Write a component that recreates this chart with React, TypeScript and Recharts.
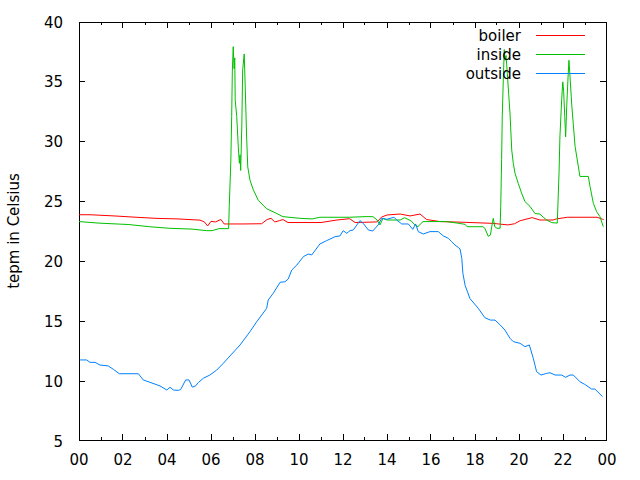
import { LineChart, Line, XAxis, YAxis, Legend, ReferenceArea } from "recharts";

// readings: [hour of day, temperature in Celsius]
const boiler: [number, number][] = [
  [0, 23.9], [0.5, 23.9], [1.6, 23.8], [2.5, 23.7], [3.5, 23.6], [4.5, 23.55],
  [5.5, 23.45], [5.7, 23.3], [5.85, 22.96], [6.0, 23.35], [6.2, 23.3], [6.45, 23.5],
  [6.6, 23.13], [7.5, 23.13], [8.3, 23.15], [8.55, 23.5], [8.73, 23.6], [8.9, 23.3],
  [9.1, 23.4], [9.27, 23.5], [9.5, 23.25], [11.0, 23.25], [11.73, 23.46], [12.3, 23.57],
  [12.55, 23.25], [13.55, 23.3], [13.75, 23.7], [14.0, 23.88], [14.6, 23.96], [15.05, 23.8],
  [15.5, 23.96], [15.8, 23.5], [16.4, 23.33], [17.5, 23.27], [18.8, 23.18], [19.5, 23.05],
  [19.8, 23.15], [20.05, 23.4], [20.6, 23.66], [20.95, 23.46], [21.55, 23.46], [21.7, 23.55],
  [22.2, 23.69], [23.55, 23.69], [23.8, 23.52], [23.85, 23.5],
];

const inside: [number, number][] = [
  [0, 23.33], [0.9, 23.2], [2.27, 23.08], [3.2, 22.9], [4.1, 22.77], [5.14, 22.7],
  [5.8, 22.57], [6.05, 22.57], [6.36, 22.74], [6.8, 22.74], [6.83, 24.6], [6.9, 28.3],
  [6.94, 32.1], [6.97, 35.9], [7.01, 37.94], [7.05, 36.1], [7.08, 37.0], [7.1, 33.5],
  [7.17, 32.1], [7.24, 29.6], [7.29, 28.2], [7.32, 28.9], [7.35, 27.6], [7.4, 31.3],
  [7.44, 36.0], [7.51, 37.33], [7.56, 34.3], [7.62, 30.4], [7.67, 27.9], [7.77, 26.8],
  [7.92, 26.0], [8.15, 25.1], [8.53, 24.4], [8.99, 24.0], [9.27, 23.74], [10.05, 23.6],
  [10.6, 23.55], [10.95, 23.69], [12.3, 23.69], [13.0, 23.74], [13.36, 23.74], [13.55, 23.46],
  [13.68, 23.05], [13.82, 23.6], [14.0, 23.46], [14.6, 23.46], [14.8, 23.65], [15.1, 23.38],
  [15.27, 23.05], [15.4, 22.9], [15.64, 23.33], [16.7, 23.33], [17.2, 23.2], [17.55, 23.1],
  [17.64, 22.9], [18.36, 22.9], [18.45, 22.77], [18.6, 22.1], [18.7, 22.2], [18.76, 22.9],
  [18.83, 23.6], [18.9, 22.9], [19.0, 22.77], [19.14, 22.77], [19.17, 24.6], [19.21, 28.5],
  [19.24, 32.2], [19.29, 35.4], [19.33, 37.7], [19.36, 36.8], [19.41, 37.2], [19.47, 35.7],
  [19.53, 34.0], [19.59, 32.4], [19.67, 29.3], [19.74, 28.2], [19.82, 27.36], [19.97, 26.5],
  [20.12, 25.7], [20.27, 25.0], [20.5, 24.6], [20.73, 24.0], [20.95, 23.96], [21.1, 23.7],
  [21.26, 23.46], [21.49, 23.24], [21.74, 23.2], [21.82, 27.4], [21.86, 30.4], [21.94, 33.5],
  [21.99, 35.0], [22.03, 34.2], [22.08, 32.1], [22.12, 30.4], [22.17, 33.0], [22.23, 35.4],
  [22.27, 36.8], [22.32, 35.4], [22.4, 33.0], [22.55, 29.6], [22.7, 27.9], [22.77, 27.1],
  [23.15, 27.1], [23.23, 26.25], [23.38, 24.85], [23.53, 24.15], [23.68, 23.74], [23.76, 23.3],
  [23.83, 22.9],
];

const outside: [number, number][] = [
  [0.05, 11.77], [0.35, 11.77], [0.5, 11.57], [0.73, 11.57], [0.95, 11.35], [1.33, 11.27],
  [1.56, 10.99], [1.83, 10.62], [2.7, 10.62], [2.92, 10.1], [3.23, 9.9], [3.68, 9.6],
  [3.99, 9.26], [4.14, 9.49], [4.29, 9.26], [4.51, 9.23], [4.62, 9.3], [4.85, 10.1],
  [5.0, 10.1], [5.15, 9.5], [5.3, 9.6], [5.42, 9.87], [5.65, 10.24], [5.95, 10.51],
  [6.26, 10.93], [6.56, 11.49], [6.86, 12.1], [7.32, 13.02], [7.77, 14.13], [8.08, 14.97],
  [8.53, 16.08], [8.6, 16.78], [8.83, 17.34], [9.14, 18.26], [9.36, 18.3], [9.51, 18.53],
  [9.67, 19.28], [9.9, 19.7], [10.2, 20.4], [10.42, 20.62], [10.58, 20.54], [10.95, 21.46],
  [11.26, 21.74], [11.64, 22.07], [11.86, 22.13], [12.01, 22.57], [12.17, 22.35], [12.32, 22.57],
  [12.47, 22.63], [12.77, 23.41], [12.92, 23.18], [13.15, 22.63], [13.35, 22.54], [13.6, 23.05],
  [13.76, 23.6], [13.99, 23.52], [14.32, 23.69], [14.44, 23.46], [14.67, 23.13], [14.97, 23.13],
  [15.17, 22.68], [15.3, 23.13], [15.42, 22.49], [15.65, 22.29], [15.95, 22.49], [16.33, 22.49],
  [16.56, 22.13], [16.79, 21.93], [16.94, 21.65], [17.09, 21.37], [17.24, 21.17], [17.32, 21.04],
  [17.4, 20.26], [17.45, 19.0], [17.55, 18.0], [17.77, 16.9], [18.14, 16.1], [18.45, 15.3],
  [18.7, 15.1], [18.91, 15.1], [19.14, 14.7], [19.36, 14.27], [19.59, 13.58], [19.74, 13.3],
  [20.05, 13.16], [20.27, 12.88], [20.47, 13.02], [20.65, 11.9], [20.8, 10.79], [21.0, 10.51],
  [21.26, 10.65], [21.41, 10.7], [21.64, 10.51], [21.94, 10.51], [22.12, 10.32], [22.32, 10.51],
  [22.47, 10.51], [22.77, 9.95], [22.99, 9.73], [23.3, 9.34], [23.45, 9.34], [23.8, 8.7],
];

const hourTicks = Array.from({ length: 25 }, (_, i) => i);
const tempTicks = [5, 10, 15, 20, 25, 30, 35, 40];

const series = [
  { name: "boiler", color: "#ff0000", rows: boiler },
  { name: "inside", color: "#00c000", rows: inside },
  { name: "outside", color: "#0080ff", rows: outside },
];

const W = 640;
const H = 480;
const margin = { top: 22, right: 33, bottom: 0, left: 0 };
const xAxisH = 39;
const yAxisW = 79;
const plotW = W - margin.left - margin.right - yAxisW;
const plotH = H - margin.top - margin.bottom - xAxisH;

const font = { fontFamily: "DejaVu Sans", fontSize: 15, fill: "#000" };
const ink = "#000";

const hourLabel = (h: number) => String(h % 24).padStart(2, "0");
// put 1px lines on a pixel centre so they come out sharp, like gnuplot's png
const px = (v: number) => Math.floor(v) + 0.5;

// gnuplot style: ticks point inward and are mirrored on the opposite border
function HourTick({ x, y, payload }: any) {
  const major = payload.value % 2 === 0;
  const len = major ? 6 : 3;
  const edge = payload.value === 0 || payload.value === 24;
  const cx = px(x);
  const bottom = y - 1;
  const top = y - plotH;
  return (
    <g>
      {!edge && (
        <>
          <line x1={cx} x2={cx} y1={bottom} y2={bottom - len} stroke={ink} />
          <line x1={cx} x2={cx} y1={top} y2={top + len} stroke={ink} />
        </>
      )}
      {major && (
        <text x={x} y={y + 24} textAnchor="middle" style={font}>
          {hourLabel(payload.value)}
        </text>
      )}
    </g>
  );
}

function TempTick({ x, y, payload }: any) {
  const edge = payload.value === 5 || payload.value === 40;
  const cy = px(y);
  return (
    <g>
      {!edge && (
        <>
          <line x1={x} x2={x + 6} y1={cy} y2={cy} stroke={ink} />
          <line x1={x + plotW - 1} x2={x + plotW - 7} y1={cy} y2={cy} stroke={ink} />
        </>
      )}
      <text x={x - 16} y={y + 5.5} textAnchor="end" style={font}>
        {payload.value}
      </text>
    </g>
  );
}

function Frame({ x, y, width, height }: any) {
  return <rect x={x + 0.5} y={y + 0.5} width={width - 1} height={height - 1} fill="none" stroke={ink} />;
}

function LegendBox() {
  return (
    <svg width={W} height={90}>
      {series.map((s, i) => (
        <g key={s.name}>
          <text x={521} y={40.5 + i * 19} textAnchor="end" style={font}>
            {s.name}
          </text>
          <line x1={536} x2={585} y1={35.5 + i * 19} y2={35.5 + i * 19} stroke={s.color} />
        </g>
      ))}
    </svg>
  );
}

const toRows = (rows: [number, number][]) => rows.map(([h, t]) => ({ h, t }));

export default function App() {
  return (
    <div style={{ position: "absolute", left: 0, top: 0, background: "#fff" }}>
      <LineChart width={W} height={H} margin={margin}>
        <XAxis
          type="number"
          dataKey="h"
          domain={[0, 24]}
          ticks={hourTicks}
          interval={0}
          allowDataOverflow
          height={xAxisH}
          tickSize={0}
          tickMargin={0}
          tickLine={false}
          axisLine={false}
          tick={<HourTick />}
        />
        <YAxis
          type="number"
          domain={[5, 40]}
          ticks={tempTicks}
          interval={0}
          allowDataOverflow
          width={yAxisW}
          tickSize={0}
          tickMargin={0}
          tickLine={false}
          axisLine={false}
          tick={<TempTick />}
          label={{
            content: () => (
              <text x={19} y={231} transform="rotate(-90 19 231)" textAnchor="middle" style={font}>
                tepm in Celsius
              </text>
            ),
          }}
        />
        <ReferenceArea x1={0} x2={24} y1={5} y2={40} shape={<Frame />} />
        <Legend
          layout="vertical"
          align="center"
          verticalAlign="middle"
          wrapperStyle={{ left: 0, top: 0, width: W, height: 90 }}
          content={() => <LegendBox />}
        />
        {series.map((s) => (
          <Line
            key={s.name}
            name={s.name}
            data={toRows(s.rows)}
            dataKey="t"
            type="linear"
            stroke={s.color}
            strokeWidth={1}
            dot={false}
            activeDot={false}
            isAnimationActive={false}
          />
        ))}
      </LineChart>
    </div>
  );
}
